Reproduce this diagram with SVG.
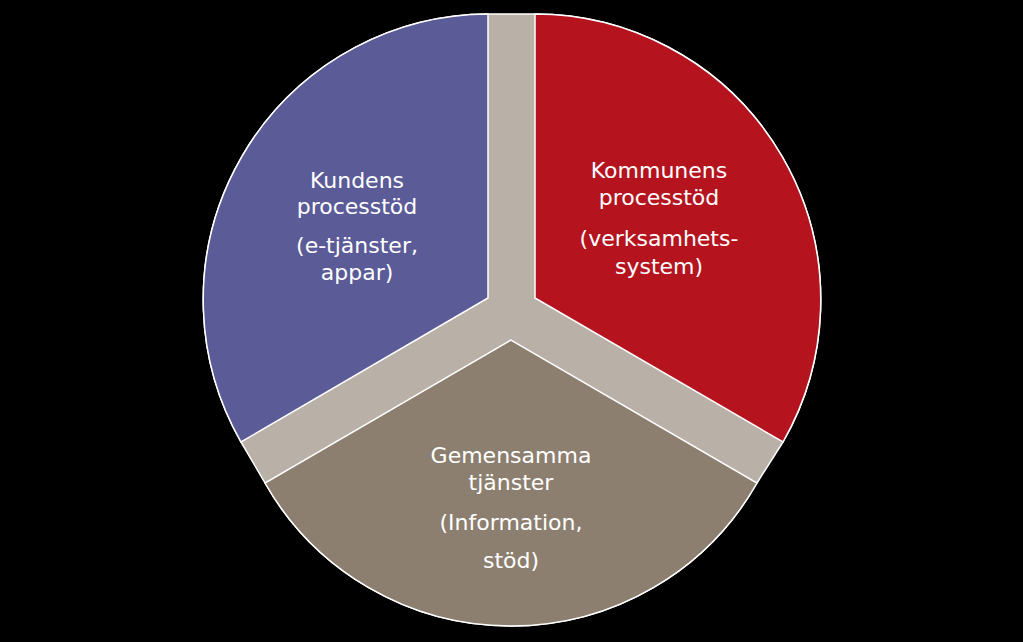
<svg xmlns="http://www.w3.org/2000/svg" width="1023" height="642" viewBox="0 0 1023 642">
<style>
.s{stroke:#fff;stroke-width:1.5}
text{font-family:"DejaVu Sans",Verdana,sans-serif;font-size:22px;fill:#fff;text-anchor:middle}
</style>
<rect width="1023" height="642" fill="#000"/>
<g id="bg"><path class="s" fill="#b9b0a7" d="M488,14 L535,14 A286 286 0 0 1 783,442 L757,483 A283 283 0 0 1 265,483 L241,442 A286 286 0 0 1 488,14 Z"/></g>
<g id="kund"><path class="s" fill="#5b5b98" d="M488,298 L488,14 A286 286 0 0 0 241,442 Z"/>
<text x="357" y="188">Kundens</text><text x="357" y="214">processtöd</text><text x="357" y="253">(e-tjänster,</text><text x="357" y="280">appar)</text></g>
<g id="kommun"><path class="s" fill="#b5141f" d="M535,298 L535,14 A286 286 0 0 1 783,442 Z"/>
<text x="659" y="178">Kommunens</text><text x="659" y="205">processtöd</text><text x="659" y="246">(verksamhets-</text><text x="659" y="274">system)</text></g>
<g id="gemensam"><path class="s" fill="#8c7f70" d="M511,340 L265,483 A283 283 0 0 0 757,483 Z"/>
<text x="511" y="463">Gemensamma</text><text x="511" y="490">tjänster</text><text x="511" y="530">(Information,</text><text x="511" y="568">stöd)</text></g>
<g id="connectors"/>
</svg>
